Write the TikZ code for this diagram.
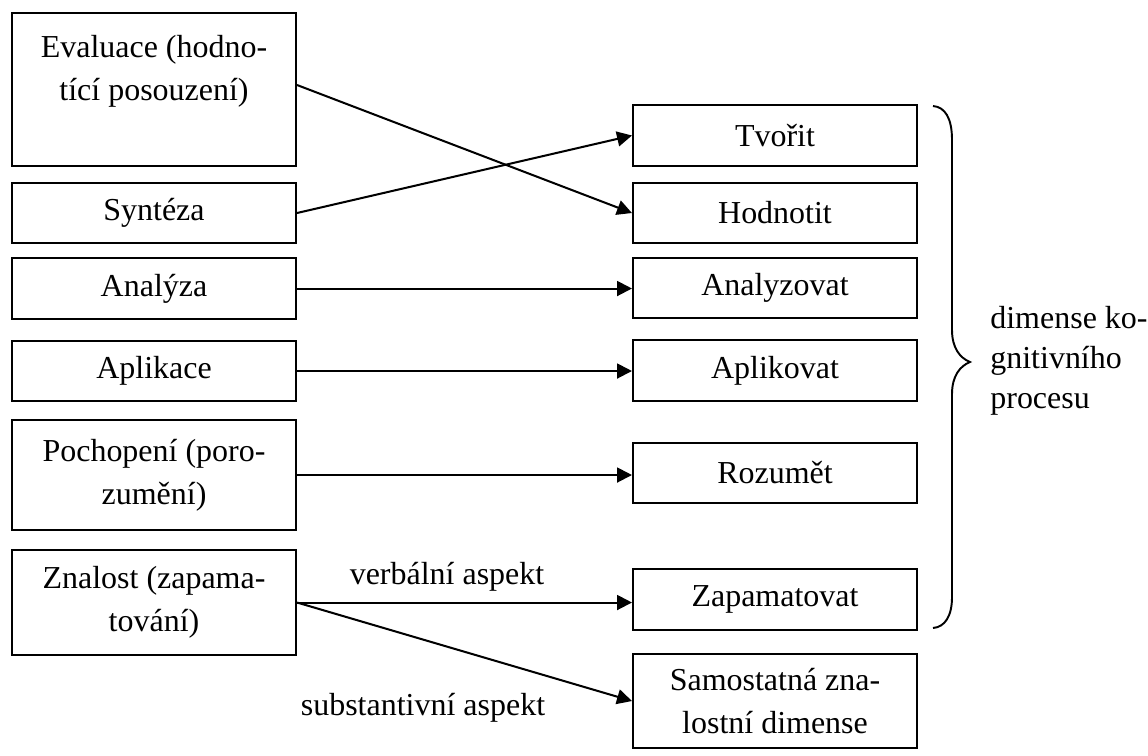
\documentclass[tikz,border=0pt]{standalone}
\usepackage{fontspec}
\setmainfont{Liberation Serif}
\usepackage{tikz}
\usetikzlibrary{positioning, calc, arrows.meta}
\definecolor{BloomLine}{HTML}{000000}

\tikzset{
  oldbox/.style={draw=BloomLine, line width=1.2pt, minimum width=5.68cm, align=center,
                 inner sep=0pt, font=\fontsize{18.2pt}{24.4pt}\selectfont},
  newbox/.style={oldbox},
  link/.style={draw=BloomLine, line width=1.15pt, -{Triangle[length=8.5pt,width=8.5pt]}},
  txt/.style={inner sep=0pt, font=\fontsize{18.2pt}{24.4pt}\selectfont}
}

\begin{document}
\begin{tikzpicture}[x=0.02cm, y=-0.02cm]
      \useasboundingbox (0,0) rectangle (1148,755);
      %% Original taxonomy (left column)
      \node[oldbox, minimum height=3.06cm] (eval) at (154,89.5) {Evaluace (hodno-\\tící posouzení)\\\mbox{}};
      \node[oldbox, minimum height=1.2cm] (synt) at (154,213) {Syntéza};
      \node[oldbox, minimum height=1.22cm] (anal) at (154,288.5) {Analýza};
      \node[oldbox, minimum height=1.2cm] (apli) at (154,371) {Aplikace};
      \node[oldbox, minimum height=2.2cm] (poch) at (154,475) {Pochopení (poro-\\zumění)};
      \node[oldbox, minimum height=2.1cm] (znal) at (154,602.5) {Znalost (zapama-\\tování)};
      %% Revised taxonomy (right column)
      \node[newbox, minimum height=1.22cm] (tvor) at (775,135.5) {Tvořit};
      \node[newbox, minimum height=1.2cm] (hodn) at (775,213) {Hodnotit};
      \node[newbox, minimum height=1.2cm] (anzv) at (775,288) {Analyzovat};
      \node[newbox, minimum height=1.22cm] (apko) at (775,370.5) {Aplikovat};
      \node[newbox, minimum height=1.2cm] (rozu) at (775,473) {Rozumět};
      \node[newbox, minimum height=1.22cm] (zapa) at (775,599.5) {Zapamatovat};
      \node[newbox, minimum height=1.88cm] (samo) at (775,701) {Samostatná zna-\\lostní dimense};
      %% Mapping arrows
      \draw[link] ([yshift=0.09cm]eval.east) -- (hodn.west);
      \draw[link] (synt.east) -- (tvor.west);
      \draw[link] (anal.east) -- (anal.east -| anzv.west);
      \draw[link] (apli.east) -- (apli.east -| apko.west);
      \draw[link] (poch.east) -- (poch.east -| rozu.west);
      \draw[link] (znal.east) -- (znal.east -| zapa.west);
      \draw[link] (znal.east) -- (samo.west);
      \node[txt] (verb) at (447,577) {verbální aspekt};
      \node[txt] (subst) at (423,708) {substantivní aspekt};
      %% Brace round the cognitive process column
      \draw[BloomLine, line width=1.1pt] (933,106) .. controls (945,107) and (952,118) .. (952,140)
                      -- (952,330) .. controls (952,348) and (960,358) .. (970,362)
                      .. controls (960,366) and (952,376) .. (952,394)
                      -- (952,597) .. controls (952,616) and (945,627) .. (933,628);
      \node[txt, anchor=west, align=left, font=\fontsize{18.2pt}{22.8pt}\selectfont] (dim) at (990,361)
           {dimense ko-\\gnitivního\\procesu};
    \end{tikzpicture}
\end{document}
